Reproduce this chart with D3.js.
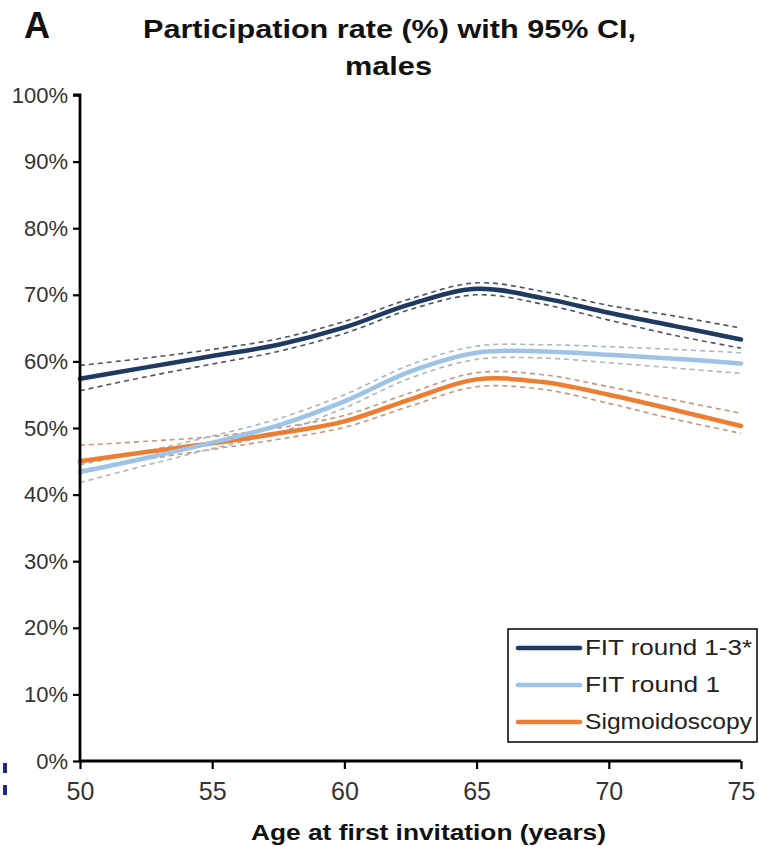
<!DOCTYPE html>
<html><head><meta charset="utf-8">
<script src="https://cdn.jsdelivr.net/npm/d3@7"></script>
<style>body{margin:0;background:#fff}svg{display:block}text{font-family:"Liberation Sans",Arial,sans-serif}</style>
</head><body>
<script>
const ages = [50, 52.5, 55, 57.5, 60, 62.5, 65, 67.5, 70, 72.5, 75];
const fit13 = [57.4, 59.1, 60.8, 62.5, 65.1, 68.6, 70.9, 69.5, 67.3, 65.3, 63.3];
const fit13Up = [59.4, 60.5, 61.8, 63.4, 66.0, 69.4, 71.8, 70.5, 68.4, 66.8, 65.0];
const fit13Lo = [55.6, 57.7, 59.6, 61.5, 64.2, 67.8, 70.0, 68.6, 66.2, 63.9, 62.0];
const fit1 = [43.4, 45.5, 47.8, 50.4, 54.0, 58.5, 61.3, 61.5, 61.0, 60.4, 59.7];
const fit1Up = [44.5, 46.5, 48.8, 51.4, 55.0, 59.5, 62.3, 62.5, 62.2, 61.8, 61.3];
const fit1Lo = [41.8, 44.4, 46.9, 49.3, 53.0, 57.5, 60.3, 60.5, 59.8, 59.0, 58.2];
const sigmo = [45.0, 46.4, 47.7, 49.2, 51.0, 54.3, 57.3, 56.9, 55.0, 52.7, 50.3];
const sigmoUp = [47.4, 48.0, 48.7, 50.0, 51.9, 55.3, 58.3, 58.0, 56.2, 54.2, 52.2];
const sigmoLo = [43.7, 45.3, 46.8, 48.3, 50.1, 53.3, 56.2, 55.8, 53.7, 51.3, 49.2];
const seriesNames = ["FIT round 1-3*", "FIT round 1", "Sigmoidoscopy"];
const xTicks = [50, 55, 60, 65, 70, 75];
const yTicks = [0, 10, 20, 30, 40, 50, 60, 70, 80, 90, 100];

const W = 759, H = 847;
const svg = d3.select("body").append("svg").attr("width", W).attr("height", H);
const x = d3.scaleLinear().domain([50, 75]).range([80, 741]);
const y = d3.scaleLinear().domain([0, 100]).range([761, 95]);

const series = [
  {name: seriesNames[0], v: fit13, up: fit13Up, lo: fit13Lo, color: "#1f3a60", ci: "#4a5566", tl: 167},
  {name: seriesNames[1], v: fit1, up: fit1Up, lo: fit1Lo, color: "#9dc3e6", ci: "#a8b6c6", tl: 135},
  {name: seriesNames[2], v: sigmo, up: sigmoUp, lo: sigmoLo, color: "#ed7d31", ci: "#c9957a", tl: 167}
];

const line = d3.line().x((d, i) => x(ages[i])).y(d => y(d)).curve(d3.curveCatmullRom.alpha(0.5));

series.slice().reverse().forEach(s => {
  [s.up, s.lo].forEach(arr => {
    svg.append("path").attr("d", line(arr)).attr("fill", "none")
      .attr("stroke", s.ci).attr("stroke-width", 1.6).attr("stroke-dasharray", "5,4");
  });
});
[series[2], series[1], series[0]].forEach(s => {
  svg.append("path").attr("d", line(s.v)).attr("fill", "none")
    .attr("stroke", s.color).attr("stroke-width", 4.5).attr("stroke-linecap", "round");
});

const yAxis = svg.append("g").attr("transform", "translate(80,0)")
  .call(d3.axisLeft(y).tickValues(yTicks).tickFormat(d => d + "%").tickSize(7).tickPadding(5));
yAxis.select(".domain").attr("stroke", "#000").attr("stroke-width", 2.8).attr("d", "M-7,95H0V761");
yAxis.selectAll(".tick line").attr("stroke", "#000").attr("stroke-width", 2.2);
yAxis.selectAll(".tick text").attr("font-size", 22).attr("fill", "#333").attr("font-family", "Liberation Sans, Arial, sans-serif");

const xAxis = svg.append("g").attr("transform", "translate(0,761)")
  .call(d3.axisBottom(x).tickValues(xTicks).tickSize(8).tickPadding(13));
xAxis.select(".domain").attr("stroke", "#000").attr("stroke-width", 2.8).attr("d", "M80,0H741");
xAxis.selectAll(".tick line").attr("stroke", "#000").attr("stroke-width", 2.2);
xAxis.selectAll(".tick text").attr("font-size", 25).attr("fill", "#333").attr("font-family", "Liberation Sans, Arial, sans-serif");

svg.append("text").attr("x", 24).attr("y", 38).attr("font-size", 36).attr("font-weight", "bold").attr("fill", "#111").text("A");
svg.append("text").attr("x", 143).attr("y", 38).attr("font-size", 25).attr("font-weight", "bold").attr("fill", "#111")
  .attr("textLength", 493).attr("lengthAdjust", "spacingAndGlyphs").text("Participation rate (%) with 95% CI,");
svg.append("text").attr("x", 345).attr("y", 75).attr("font-size", 25).attr("font-weight", "bold").attr("fill", "#111")
  .attr("textLength", 87).attr("lengthAdjust", "spacingAndGlyphs").text("males");
svg.append("text").attr("x", 251).attr("y", 840).attr("font-size", 22).attr("font-weight", "bold").attr("fill", "#111")
  .attr("textLength", 355).attr("lengthAdjust", "spacingAndGlyphs").text("Age at first invitation (years)");

const lg = svg.append("g");
lg.append("rect").attr("x", 508).attr("y", 629).attr("width", 249).attr("height", 113)
  .attr("fill", "#fff").attr("stroke", "#000").attr("stroke-width", 1.5);
series.forEach((s, i) => {
  const yy = 648 + i * 37;
  lg.append("line").attr("x1", 518).attr("x2", 580).attr("y1", yy).attr("y2", yy)
    .attr("stroke", s.color).attr("stroke-width", 4.5).attr("stroke-linecap", "round");
  lg.append("text").attr("x", 585).attr("y", yy + 7).attr("font-size", 22).attr("fill", "#222")
    .attr("textLength", s.tl).attr("lengthAdjust", "spacingAndGlyphs").text(s.name);
});

svg.append("rect").attr("x", 3).attr("y", 763).attr("width", 4).attr("height", 10).attr("fill", "#1a2a80");
svg.append("rect").attr("x", 3).attr("y", 785).attr("width", 4).attr("height", 10).attr("fill", "#1a2a80");
</script>
</body></html>
